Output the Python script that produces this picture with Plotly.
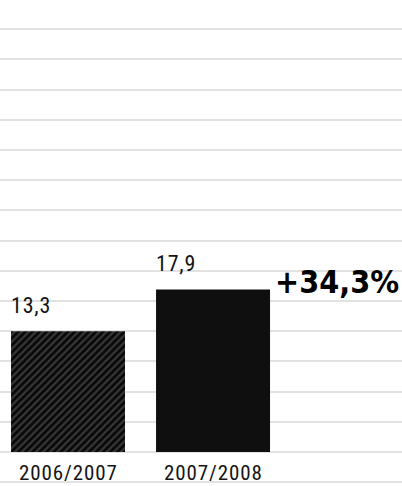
import plotly.graph_objects as go

# Season categories and values (millions)
seasons = ["2006/2007", "2007/2008"]
values = [13.3, 17.9]
value_labels = ["13,3", "17,9"]
change_label = "+34,3%"

# Scale: 0 sits on a ruled line; ruled lines are spaced evenly
PX_PER_UNIT = 9.08
LINE_GAP = 30.2 / PX_PER_UNIT
Y_MIN = -34 / PX_PER_UNIT
Y_MAX = 452 / PX_PER_UNIT

NARROW = "Roboto Condensed, DejaVu Sans Condensed, sans-serif"


def spaced(s, px):
    return '<span style="letter-spacing:%spx">%s</span>' % (px, s)


fig = go.Figure()
fig.add_bar(
    x=[seasons[0]], y=[values[0]], width=0.786,
    marker=dict(color="#111111",
                pattern=dict(shape="/", fgcolor="#666666", bgcolor="#080808",
                             size=5, solidity=0.45),
                line=dict(width=0)),
    hoverinfo="skip",
)
fig.add_bar(
    x=[seasons[1]], y=[values[1]], width=0.786,
    marker=dict(color="#0f0f0f", line=dict(width=0)),
    hoverinfo="skip",
)

# value labels above each bar, left-aligned to the bar edge; season names below
for s, v, lab in zip(seasons, values, value_labels):
    fig.add_annotation(x=s, y=v, text=spaced(lab, 0.8), showarrow=False,
                       xanchor="left", yanchor="middle", xshift=-59, yshift=26,
                       font=dict(family=NARROW, size=22, color="#141414"))
    fig.add_annotation(x=s, y=-2.3, text=spaced(s, 0.9), showarrow=False,
                       xanchor="center", yanchor="middle", borderpad=0,
                       font=dict(family=NARROW, size=21, color="#141414"))

# growth note next to the taller bar
fig.add_annotation(x=seasons[1], y=values[1], text="<b>" + change_label + "</b>",
                   showarrow=False, xanchor="left", yanchor="middle",
                   xshift=60, yshift=7,
                   font=dict(family="DejaVu Sans Condensed, DejaVu Sans", size=32,
                             color="#000000"))

fig.update_layout(
    width=402, height=486,
    margin=dict(l=0, r=0, t=0, b=0),
    paper_bgcolor="white", plot_bgcolor="white",
    showlegend=False, barmode="overlay",
    xaxis=dict(type="category", range=[-0.469, 2.303], showticklabels=False,
               showgrid=False, zeroline=False, showline=False),
    yaxis=dict(range=[Y_MIN, Y_MAX], tick0=0, dtick=LINE_GAP,
               showticklabels=False, showgrid=True, gridcolor="#e2e2e2",
               gridwidth=1.5, zeroline=False, showline=False),
)

fig.write_html("out.html")
